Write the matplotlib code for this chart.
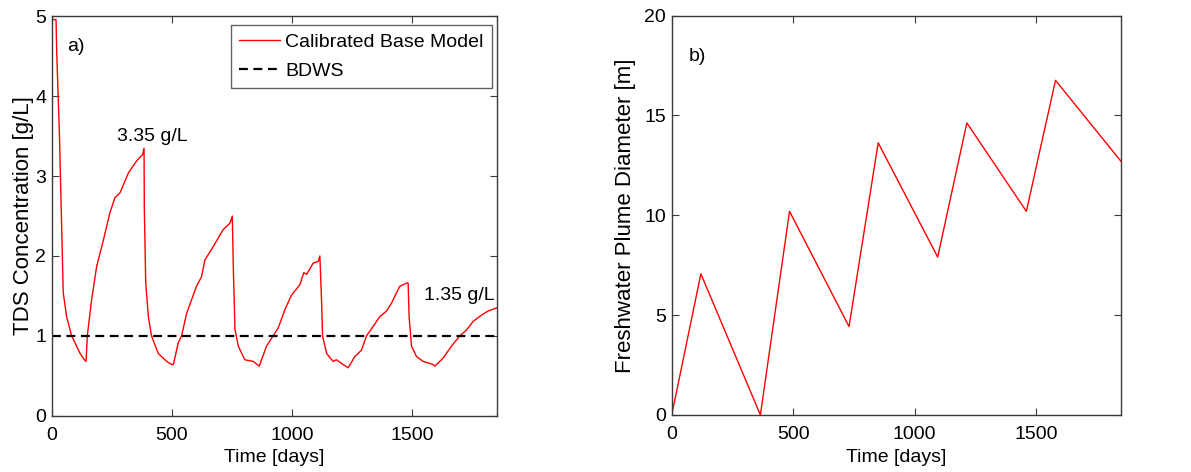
import matplotlib.pyplot as plt

plt.rcParams['font.family'] = ['Liberation Sans', 'DejaVu Sans']

# panel a) TDS concentration of the calibrated base model
tds_days = [0, 18, 21, 32, 42, 48, 62, 83, 118, 136, 143,
            148, 166, 187, 215, 242, 263, 284, 319, 353, 378, 384,
            385, 391, 402, 415, 443, 478, 499, 506,
            526, 540, 561, 602, 623, 637, 672, 713, 741, 751,
            755, 762, 776, 803, 838, 863,
            893, 921, 942, 970, 997, 1032, 1048, 1060, 1087, 1108, 1115,
            1122, 1126, 1143, 1170, 1184, 1212, 1233,
            1260, 1288, 1309, 1337, 1364, 1392, 1413, 1447, 1475, 1482,
            1486, 1496, 1517, 1544, 1586, 1593,
            1627, 1662, 1697, 1724, 1752, 1787, 1814, 1850]
tds_vals = [4.96, 4.96, 4.54, 3.54, 2.29, 1.54, 1.24, 1.0, 0.78, 0.70, 0.68,
            1.0, 1.45, 1.87, 2.2, 2.54, 2.73, 2.79, 3.04, 3.19, 3.27, 3.35,
            2.62, 1.66, 1.24, 1.0, 0.78, 0.68, 0.64, 0.64,
            0.91, 1.0, 1.28, 1.62, 1.74, 1.95, 2.12, 2.33, 2.41, 2.50,
            1.87, 1.08, 0.87, 0.70, 0.68, 0.62,
            0.87, 1.0, 1.10, 1.33, 1.51, 1.64, 1.79, 1.77, 1.91, 1.93, 2.0,
            1.45, 1.0, 0.78, 0.68, 0.70, 0.64, 0.60,
            0.74, 0.82, 1.0, 1.12, 1.24, 1.31, 1.41, 1.62, 1.66, 1.66,
            1.24, 0.87, 0.74, 0.68, 0.64, 0.62,
            0.72, 0.87, 1.0, 1.07, 1.18, 1.26, 1.31, 1.35]
bdws_limit = 1.0

# panel b) freshwater plume diameter
plume_days = [0, 120, 365, 485, 730, 850, 1095, 1215, 1460, 1580, 1850]
plume_diam = [0, 7.07, 0, 10.2, 4.43, 13.63, 7.91, 14.63, 10.2, 16.76, 12.7]

fig = plt.figure(figsize=(11.91, 4.72), dpi=100)
ax1 = fig.add_axes([0.0434, 0.1193, 0.3736, 0.846])
ax2 = fig.add_axes([0.564, 0.1208, 0.3773, 0.846])

fs = 14
yfs = 16  # y labels look vertically stretched in the original
edge = '#3a3a3a'

ax1.plot(tds_days, tds_vals, color='red', lw=1.0, label='Calibrated Base Model')
ax1.axhline(bdws_limit, color='black', ls='--', lw=1.6, dashes=(4, 2.5), label='BDWS')
ax1.set_xlim(0, 1850)
ax1.set_ylim(0, 5)
ax1.set_yticks([0, 1, 2, 3, 4, 5])
ax1.set_xticks([0, 500, 1000, 1500])
ax1.set_xlabel('Time [days]', fontsize=fs, labelpad=4)
ax1.set_ylabel('TDS Concentration [g/L]', fontsize=yfs, labelpad=1)
ax1.text(100, 4.62, 'a)', fontsize=fs, ha='center', va='center')
ax1.text(417, 3.50, '3.35 g/L', fontsize=fs, ha='center', va='center')
ax1.text(1696, 1.5, '1.35 g/L', fontsize=fs, ha='center', va='center')
leg = ax1.legend(loc='upper right', bbox_to_anchor=(0.9894, 0.978),
                 fontsize=fs, frameon=True, fancybox=False,
                 handlelength=2.06, borderpad=0.42, labelspacing=0.6,
                 borderaxespad=0, handletextpad=0.3)
leg.get_frame().set_edgecolor(edge)
leg.get_frame().set_linewidth(1.0)

ax2.plot(plume_days, plume_diam, color='red', lw=1.0)
ax2.set_xlim(0, 1850)
ax2.set_ylim(0, 20)
ax2.set_yticks([0, 5, 10, 15, 20])
ax2.set_xticks([0, 500, 1000, 1500])
ax2.set_xlabel('Time [days]', fontsize=fs, labelpad=4)
ax2.set_ylabel('Freshwater Plume Diameter [m]', fontsize=yfs, labelpad=6)
ax2.text(104, 17.96, 'b)', fontsize=fs, ha='center', va='center')

for ax in (ax1, ax2):
    ax.tick_params(direction='in', top=True, right=True, length=5,
                   labelsize=fs, color=edge, pad=4)
    ax.tick_params(axis='x', pad=8)
    for sp in ax.spines.values():
        sp.set_color(edge)
        sp.set_linewidth(1.0)

fig.savefig('out.png', dpi=100)
